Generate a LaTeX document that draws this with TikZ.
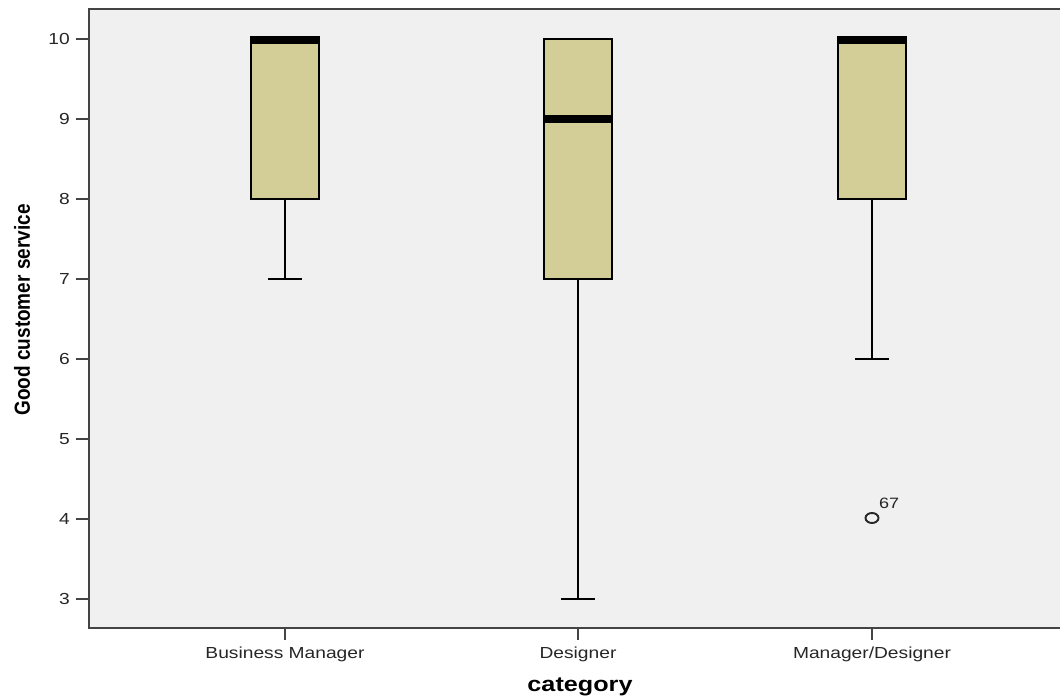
\documentclass[tikz,border=0pt]{standalone}
\usepackage{fontspec}
\usetikzlibrary{shapes.geometric}
\setmainfont{Liberation Sans}
\definecolor{plotbg}{HTML}{F0F0F0}
\definecolor{boxfill}{HTML}{D3CE97}
\definecolor{axisgray}{HTML}{444444}
\newcommand{\hstretch}[1]{\scalebox{1.2}[1]{#1}}
\begin{document}
\begin{tikzpicture}[x=1pt,y=-1pt,
  axisline/.style={axisgray, line width=1.6pt},
  ticklab/.style={inner sep=0pt, text=black!85, font=\fontsize{16}{16}\selectfont},
  catlab/.style={inner sep=0pt, anchor=base, text=black!85, font=\fontsize{16}{16}\selectfont},
  boxrect/.style={fill=boxfill, draw=black, line width=1.9pt},
  whisk/.style={black, line width=2.2pt},
  medianbar/.style={fill=black},
  outlier/.style={draw=black!85, line width=1.9pt, fill=none}]
\useasboundingbox (0,0) rectangle (1060,698);
% plot area
\fill[plotbg] (89,9) rectangle (1060,628);
\draw[axisline] (1060,9) -- (89,9) -- (89,628) -- (1060,628);
% y ticks
\foreach \v in {3,...,10}{
  \pgfmathsetmacro{\yy}{39+(10-\v)*80}
  \draw[axisline] (76,\yy) -- (89,\yy);
  \node[ticklab, anchor=east] (yt\v) at (70,\yy) {\hstretch{\v}};
}
% x ticks
\foreach \c in {285,578,872}{
  \draw[axisline] (\c,628) -- (\c,640);
}
\node[catlab] (lbm) at (285,658) {\hstretch{Business Manager}};
\node[catlab] (lde) at (578,658) {\hstretch{Designer}};
\node[catlab] (lmd) at (872,658) {\hstretch{Manager/Designer}};
% box 1: Business Manager
\draw[whisk] (285,199) -- (285,279);
\draw[whisk] (268,279) -- (302,279);
\draw[boxrect] (251,39) rectangle (319,199);
\fill[medianbar] (250,36) rectangle (320,44);
% box 2: Designer
\draw[whisk] (578,279) -- (578,599);
\draw[whisk] (561,599) -- (595,599);
\draw[boxrect] (544,39) rectangle (612,279);
\fill[medianbar] (543,115) rectangle (613,123);
% box 3: Manager/Designer
\draw[whisk] (872,199) -- (872,359);
\draw[whisk] (855,359) -- (889,359);
\draw[boxrect] (838,39) rectangle (906,199);
\fill[medianbar] (837,36) rectangle (907,44);
% outlier
\node[outlier, ellipse, minimum width=13pt, minimum height=10pt, inner sep=0pt] (o67) at (872,518) {};
\node[inner sep=0pt, anchor=base west, text=black!85, font=\fontsize{15}{15}\selectfont] (l67) at (879,508) {\hstretch{67}};
% axis titles
\node[rotate=90, inner sep=0pt, font=\bfseries\fontsize{19}{19}\selectfont] (ytitle) at (22,310) {\scalebox{1}[1.15]{Good customer service}};
\node[inner sep=0pt, anchor=base, font=\bfseries\fontsize{21}{21}\selectfont] (xtitle) at (580,691) {\hstretch{category}};
\end{tikzpicture}
\end{document}
